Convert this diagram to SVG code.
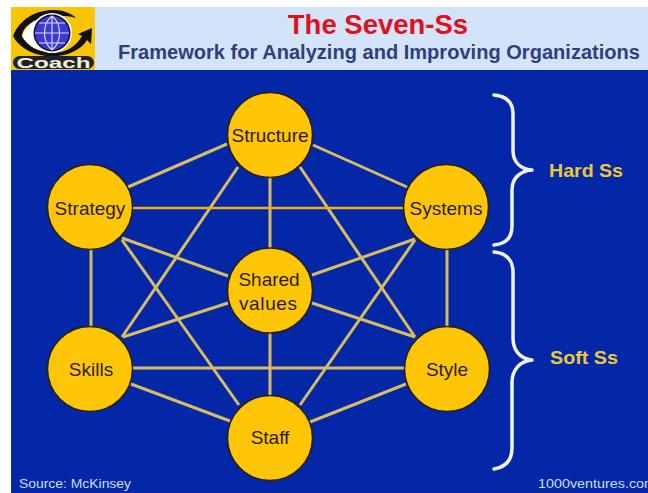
<svg xmlns="http://www.w3.org/2000/svg" width="648" height="493" viewBox="0 0 648 493">
<style>
.l{stroke:#d8bc60;stroke-width:3;fill:none}
.o{stroke:#f0b010;stroke-width:2.500;fill:none}
.n{fill:#ffc608;stroke:#2a2010;stroke-width:1.500}
.t{font-family:"Liberation Sans",Arial,sans-serif;font-size:19px;fill:#2a1c08;text-anchor:middle}
.b{fill:none;stroke:#eef3ff;stroke-width:3.500;stroke-linecap:round;stroke-linejoin:round}
.h{font-family:"Liberation Sans",Arial,sans-serif;font-weight:bold;font-size:18.500px;fill:#ecc838}
.f{font-family:"Liberation Sans",Arial,sans-serif;font-size:12.500px;fill:#d0dcf4}
</style>
<rect width="648" height="493" fill="#fff"/>
<g id="header">
<rect x="11" y="7" width="637" height="63" fill="#d3e3f8"/>
<text x="378" y="34" font-family="Liberation Sans,Arial,sans-serif" font-weight="bold" font-size="27.500" fill="#e0101c" text-anchor="middle">The Seven-Ss</text>
<text x="118" y="59" font-family="Liberation Sans,Arial,sans-serif" font-weight="bold" font-size="19.500" fill="#2e3f80" textLength="522" lengthAdjust="spacingAndGlyphs">Framework for Analyzing and Improving Organizations</text>
</g>
<g id="logo">
<rect x="11" y="7" width="84" height="63" fill="#f9c400"/>
<path d="M13 36C20 18 38 9 56 10C66 11 72 14 76 18C62 14 40 15 27 26C24 29 22 32 22 36C26 44 36 50 46 52C60 55 74 50 82 36L78 34L92 28L91 44L87 40C80 52 62 58 46 56C30 54 18 46 13 36Z" fill="#111"/>
<path d="M22 36C25 27 34 19 46 16L46 52C34 50 26 44 22 36Z" fill="#fff"/>
<circle cx="52" cy="33" r="20" fill="#fff"/>
<circle cx="52" cy="33" r="18.500" fill="#111"/>
<circle cx="52" cy="33" r="17" fill="#3c38d4"/>
<path d="M35 33H69M52 16V50M39 23H65M39 43H65M52 16C42 24 42 42 52 50M52 16C62 24 62 42 52 50" fill="none" stroke="#d8d8ff" stroke-width="1.200"/>
<rect x="13" y="56" width="81" height="13" rx="6.500" fill="#222"/>
<text x="53.500" y="67.500" font-family="Liberation Sans,Arial,sans-serif" font-weight="bold" font-size="14" fill="#f2f2e0" text-anchor="middle" textLength="74" lengthAdjust="spacingAndGlyphs">Coach</text>
</g>
<rect x="11" y="70" width="637" height="423" fill="#0327a6"/>
<g id="connectors">
<line class="l" x1="227" y1="144" x2="128" y2="187"/>
<line class="l" x1="313" y1="145" x2="407" y2="187"/>
<line class="l" x1="270" y1="178" x2="270" y2="248"/>
<line class="l" x1="270" y1="333" x2="270" y2="396"/>
<line class="l" x1="238" y1="167" x2="122" y2="337"/>
<line class="l" x1="300" y1="167" x2="415" y2="337"/>
<line class="o" x1="132" y1="208" x2="404" y2="208"/>
<line class="l" x1="91" y1="250" x2="91" y2="327"/>
<line class="l" x1="447" y1="250" x2="447" y2="327"/>
<line class="l" x1="122" y1="238" x2="228" y2="276"/>
<line class="l" x1="122" y1="240" x2="239" y2="405"/>
<line class="l" x1="415" y1="239" x2="312" y2="275"/>
<line class="l" x1="415" y1="240" x2="300" y2="405"/>
<line class="l" x1="123" y1="337" x2="228" y2="303"/>
<line class="l" x1="132" y1="368" x2="404" y2="368"/>
<line class="l" x1="131" y1="384" x2="230" y2="421"/>
<line class="l" x1="415" y1="337" x2="312" y2="303"/>
<line class="l" x1="406" y1="384" x2="310" y2="422"/>
</g>
<g id="structure"><circle class="n" cx="270" cy="135" r="42.500"/><text class="t" x="270" y="142">Structure</text></g>
<g id="strategy"><circle class="n" cx="90" cy="207" r="42.500"/><text class="t" x="90" y="215">Strategy</text></g>
<g id="systems"><circle class="n" cx="446" cy="207" r="42.500"/><text class="t" x="446" y="215">Systems</text></g>
<g id="shared-values"><circle class="n" cx="270" cy="290.500" r="42.500"/><text class="t" x="269" y="286" textLength="61">Shared</text><text class="t" x="268" y="310" textLength="58">values</text></g>
<g id="skills"><circle class="n" cx="90" cy="369" r="42.500"/><text class="t" x="91" y="376">Skills</text></g>
<g id="style"><circle class="n" cx="447" cy="369" r="42.500"/><text class="t" x="447" y="376">Style</text></g>
<g id="staff"><circle class="n" cx="270" cy="438" r="42.500"/><text class="t" x="270" y="444">Staff</text></g>
<g id="hard-ss">
<path class="b" d="M494 95C506 96 513 102 513 114V150C513 162 520 169 532 170C520 171 512 178 512 190V226C512 238 506 244 494 245"/>
<text class="h" x="549" y="177" textLength="74" lengthAdjust="spacingAndGlyphs">Hard Ss</text>
</g>
<g id="soft-ss">
<path class="b" d="M494 252C506 253 513 260 513 272V338C513 350 520 359 532 360C520 361 512 370 512 382V448C512 460 506 467 494 469"/>
<text class="h" x="550" y="364" textLength="68" lengthAdjust="spacingAndGlyphs">Soft Ss</text>
</g>
<g id="footer">
<text class="f" x="19" y="488" textLength="112" lengthAdjust="spacingAndGlyphs">Source: McKinsey</text>
<text class="f" x="538" y="488" textLength="118" lengthAdjust="spacingAndGlyphs">1000ventures.com</text>
</g>
</svg>
